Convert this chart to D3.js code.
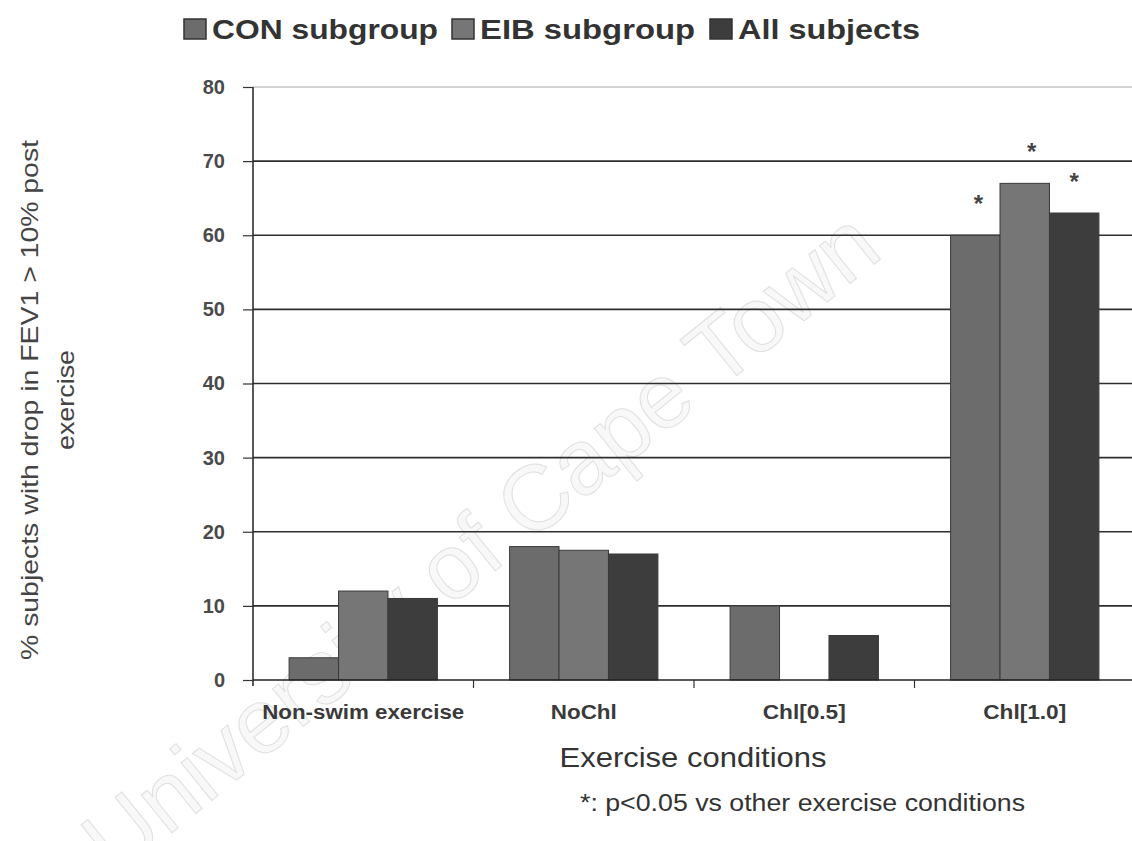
<!DOCTYPE html>
<html><head><meta charset="utf-8">
<script src="https://cdn.jsdelivr.net/npm/d3@7"></script>
<style>body{margin:0;background:#fff}svg{display:block}text{font-family:"Liberation Sans",Arial,sans-serif}</style>
</head><body><svg id="c" width="1132" height="841"></svg>
<script>
const categories = ["Non-swim exercise", "NoChl", "Chl[0.5]", "Chl[1.0]"];
const seriesNames = ["CON subgroup", "EIB subgroup", "All subjects"];
const conValues = [3, 18, 10, 60];
const eibValues = [12, 17.5, 0, 67];
const allValues = [11, 17, 6, 63];
const conSig = [false, false, false, true];
const eibSig = [false, false, false, true];
const allSig = [false, false, false, true];
const yTicks = [0, 10, 20, 30, 40, 50, 60, 70, 80];
const colors = ["#6c6c6c", "#767676", "#3d3d3d"];

(function () {
const svg = d3.select("#c");
const pLeft = 253, pRight = 1135, pTop = 87, pBottom = 680;
const x0 = d3.scaleBand().domain(categories).range([pLeft, pRight]).padding(0);
const x1 = d3.scaleBand().domain(seriesNames).range([0, x0.bandwidth()]).paddingInner(0).paddingOuter(0.73);
const y = d3.scaleLinear().domain([0, 80]).range([pBottom, pTop]);

const series = [conValues, eibValues, allValues];
const sigs = [conSig, eibSig, allSig];
const data = [];
categories.forEach((c, i) => seriesNames.forEach((s, j) => data.push({c, s, j, v: series[j][i], sig: sigs[j][i]})));

// watermark (behind)
svg.append("text").attr("transform", "translate(485,548) rotate(-39)").attr("text-anchor", "middle")
  .attr("dominant-baseline", "middle").attr("font-size", 92)
  .attr("fill", "#f8f8f8").attr("stroke", "#e0e0e0").attr("stroke-width", 1)
  .text("University of Cape Town");

// gridlines
svg.append("g").selectAll("line").data(yTicks.filter(t => t > 0)).join("line")
  .attr("x1", pLeft).attr("x2", 1132).attr("y1", d => y(d)).attr("y2", d => y(d))
  .attr("stroke", d => d === 80 ? "#a8a8a8" : "#2e2e2e").attr("stroke-width", d => d === 80 ? 1 : 1.6);

// bars
svg.append("g").selectAll("rect").data(data.filter(d => d.v > 0)).join("rect")
  .attr("x", d => x0(d.c) + x1(d.s)).attr("width", x1.bandwidth())
  .attr("y", d => y(d.v)).attr("height", d => y(0) - y(d.v))
  .attr("fill", d => colors[d.j]).attr("stroke", "#3a3a3a").attr("stroke-width", 1);

// significance stars
const starDx = [3, 7, 0];
svg.append("g").selectAll("text").data(data.filter(d => d.sig)).join("text")
  .attr("x", d => x0(d.c) + x1(d.s) + x1.bandwidth() / 2 + starDx[d.j])
  .attr("y", d => y(d.v) - 23).attr("text-anchor", "middle")
  .attr("font-size", 24).attr("font-weight", "bold").attr("fill", "#444").text("*");

// y axis
const ya = svg.append("g").attr("transform", `translate(${pLeft},0)`)
  .call(d3.axisLeft(y).tickValues(yTicks).tickSize(10).tickPadding(18));
ya.select(".domain").attr("stroke", "#222").attr("stroke-width", 1.5).attr("d", `M0,${pTop}V${pBottom + 6}`);
ya.selectAll(".tick line").attr("stroke", "#333").attr("stroke-width", 1.2);
ya.selectAll(".tick text").attr("font-size", 20).attr("font-weight", "bold").attr("fill", "#4a4a4a");

// x axis
const labelLen = {"Non-swim exercise": 202, "NoChl": 66, "Chl[0.5]": 83, "Chl[1.0]": 83};
const xa = svg.append("g").attr("transform", `translate(0,${pBottom})`)
  .call(d3.axisBottom(x0).tickSize(0).tickPadding(25));
xa.select(".domain").attr("stroke", "#222").attr("stroke-width", 1.6).attr("d", `M${pLeft},0H1132`);
xa.selectAll(".tick text").attr("font-size", 20).attr("font-weight", "bold").attr("fill", "#3a3a3a")
  .attr("textLength", d => labelLen[d]).attr("lengthAdjust", "spacingAndGlyphs");
svg.append("g").selectAll("line").data(categories.slice(1)).join("line")
  .attr("x1", d => x0(d)).attr("x2", d => x0(d)).attr("y1", pBottom).attr("y2", pBottom + 8)
  .attr("stroke", "#333").attr("stroke-width", 1.2);

// axis titles
svg.append("text").attr("x", 693).attr("y", 767).attr("text-anchor", "middle")
  .attr("font-size", 28).attr("fill", "#333")
  .attr("textLength", 267).attr("lengthAdjust", "spacingAndGlyphs").text("Exercise conditions");
const yt = svg.append("text").attr("transform", "translate(38,400) rotate(-90)")
  .attr("text-anchor", "middle").attr("font-size", 24).attr("fill", "#444");
yt.append("tspan").attr("x", 0).attr("dy", 0)
  .attr("textLength", 520).attr("lengthAdjust", "spacingAndGlyphs")
  .text("% subjects with drop in FEV1 > 10% post");
yt.append("tspan").attr("x", 0).attr("dy", 36)
  .attr("textLength", 100).attr("lengthAdjust", "spacingAndGlyphs").text("exercise");

// footnote
svg.append("text").attr("x", 580).attr("y", 811).attr("font-size", 23).attr("fill", "#333")
  .attr("textLength", 445).attr("lengthAdjust", "spacingAndGlyphs")
  .text("*: p<0.05 vs other exercise conditions");

// legend
const legX = [184, 452, 710];
const legLen = [226, 215, 182];
const lg = svg.append("g").selectAll("g").data(seriesNames).join("g")
  .attr("transform", (d, i) => `translate(${legX[i]},19)`);
lg.append("rect").attr("width", 22).attr("height", 20).attr("fill", (d, i) => colors[i]).attr("stroke", "#333").attr("stroke-width", 1.5);
lg.append("text").attr("x", 28).attr("y", 20).attr("font-size", 28).attr("font-weight", "bold").attr("fill", "#333")
  .attr("textLength", (d, i) => legLen[i]).attr("lengthAdjust", "spacingAndGlyphs").text(d => d);
})();
</script></body></html>
